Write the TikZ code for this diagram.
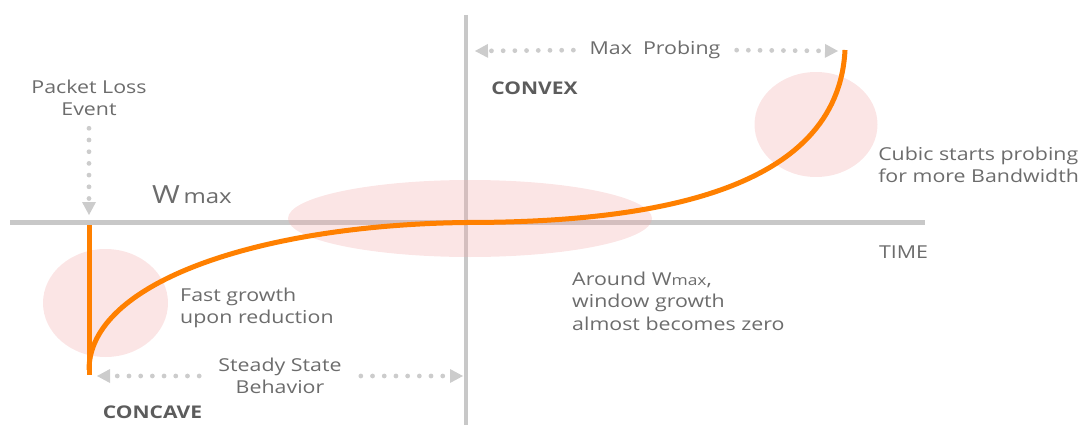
\documentclass[tikz,border=0pt]{standalone}
\usepackage{fontspec}
\setmainfont{Open Sans}
\usepackage{tikz}
\usetikzlibrary{arrows.meta}
\definecolor{cbaxis}{RGB}{200,200,200}
\definecolor{cbdots}{RGB}{204,204,204}
\definecolor{cborange}{RGB}{255,128,0}
\definecolor{cbpink}{RGB}{243,170,170}
\definecolor{cbtext}{RGB}{108,108,108}
\definecolor{cbdark}{RGB}{92,92,92}
\tikzset{
  cblabel/.style={text=cbtext, inner sep=0pt, xscale=1.2,
    font=\fontsize{17.8}{22.5}\selectfont},
  cbphase/.style={cblabel, text=cbdark, font=\fontsize{17.5}{22}\selectfont\bfseries},
  cbaxisline/.style={draw=cbaxis, line width=4.5pt},
  cbzone/.style={fill=cbpink, fill opacity=0.3},
  cbcurve/.style={draw=cborange, line width=5pt},
  cbdotarr/.style={draw=cbdots, line width=4.8pt, line cap=round,
    dash pattern=on 0pt off 11.7pt,
    -{Triangle[length=13pt,width=14pt,fill=cbdots,line width=0pt,round=false]}}
}

\begin{document}
\begin{tikzpicture}[x=1pt,y=-1pt]
\useasboundingbox (0,0) rectangle (1081,425);

% axes
\draw[cbaxisline] (10,222.5) -- (925,222.5);
\draw[cbaxisline] (466,15) -- (466,425);

% highlighted regions
\fill[cbzone] (105.5,303) ellipse [x radius=62.5, y radius=54];
\fill[cbzone] (470,218.5) ellipse [x radius=182, y radius=38.5];
\fill[cbzone] (816,124.5) ellipse [x radius=61.5, y radius=52.5];

% window curve: drop, concave recovery, convex probing
\draw[cbcurve] (89,225) -- (89,375);
\draw[cbcurve] (89,370) .. controls (89,282) and (260,225) .. (466,222.5)
  .. controls (650,222.5) and (838,192) .. (845,50);

% labels
\node[cblabel, align=center] (loss) at (89,98) {Packet Loss\\Event};
\node[cblabel, anchor=west] (wmax) at (152,195)
  {{\fontsize{25}{25}\selectfont W}\,{\fontsize{20}{20}\selectfont max}};
\node[cblabel] (probe) at (655,50) {Max\ \ Probing};
\node[cbphase] (convex) at (534.5,88) {CONVEX};
\node[cbphase] (concave) at (152.5,412) {CONCAVE};
\node[cblabel] (time) at (903.5,252) {TIME};
\node[cblabel, align=left, anchor=west] (cubic) at (878,165)
  {Cubic starts probing\\for more Bandwidth};
\node[cblabel, align=left, anchor=west] (fast) at (180,308)
  {Fast growth\\upon reduction};
\node[cblabel, align=left, anchor=west] (around) at (572,301)
  {Around W{\fontsize{14.5}{14.5}\selectfont max},\\window growth\\almost becomes zero};
\node[cblabel, align=center] (steady) at (280,376) {Steady State\\Behavior};

% arrow end points
\coordinate (lossTip) at (89,215);
\coordinate (probeL) at (475,51);
\coordinate (probeR) at (838,51);
\coordinate (steadyL) at (97,376);
\coordinate (steadyR) at (463,376);

% dotted arrows
\draw[cbdotarr, shorten <=12pt] (loss.south) -- (lossTip);
\draw[cbdotarr, shorten <=16pt] (probe.west) -- (probeL);
\draw[cbdotarr, shorten <=16pt] (probe.east) -- (probeR);
\draw[cbdotarr, shorten <=19pt] (steady.west) -- (steadyL);
\draw[cbdotarr, shorten <=19pt] (steady.east) -- (steadyR);
\end{tikzpicture}
\end{document}
